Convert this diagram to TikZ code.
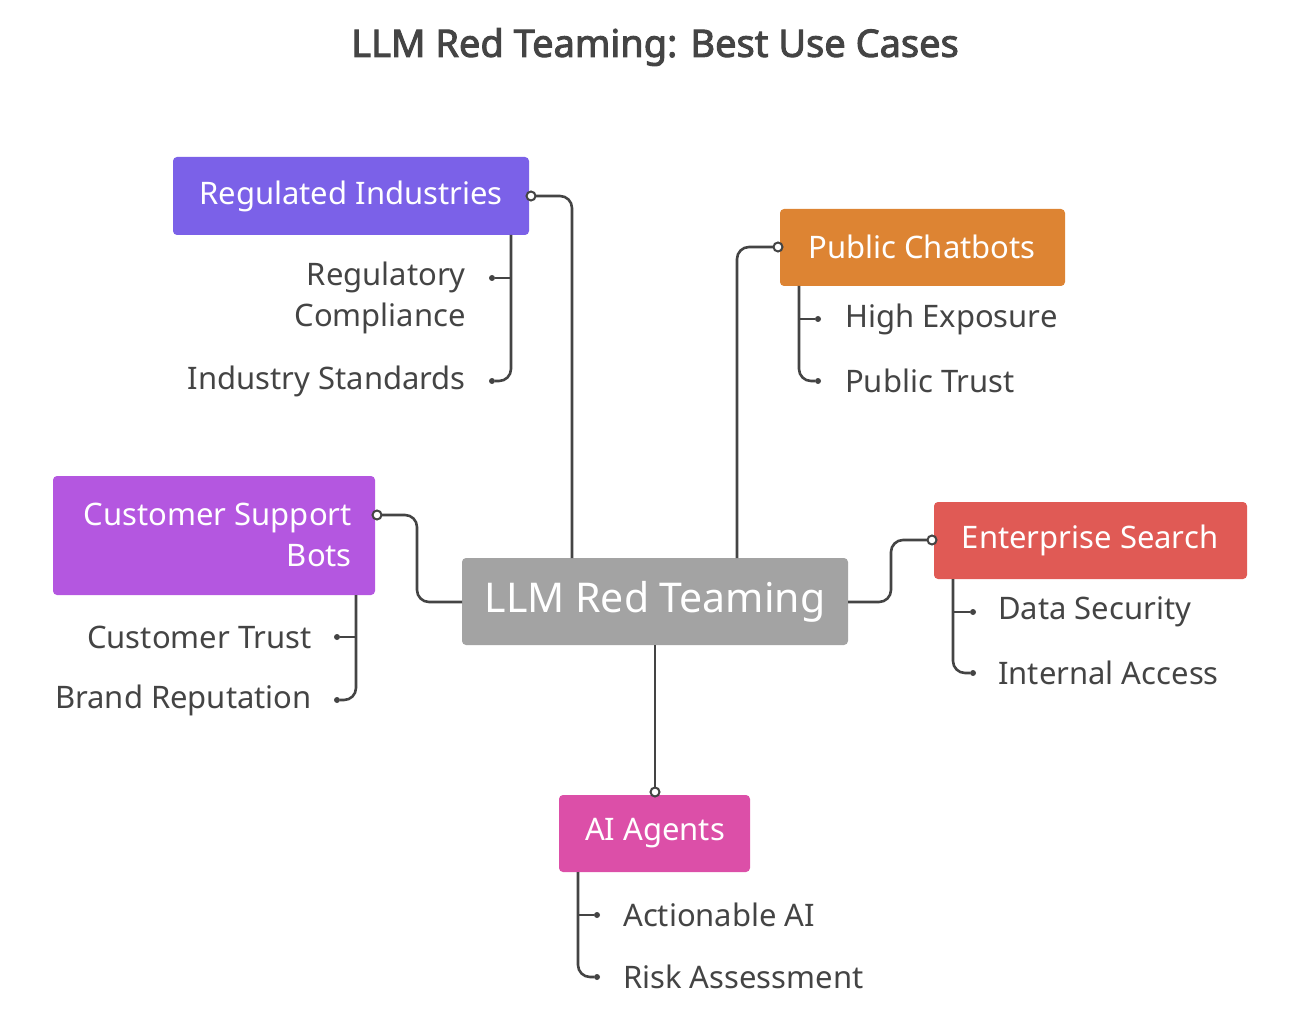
\documentclass[tikz,border=0pt]{standalone}
\usepackage{fontspec}
\setmainfont{Noto Sans}[AutoFakeBold=2.5]
\begin{document}
\definecolor{ink}{HTML}{444444}
\definecolor{cReg}{HTML}{7B61E8}
\definecolor{cPub}{HTML}{DD8433}
\definecolor{cCus}{HTML}{B457E0}
\definecolor{cCen}{HTML}{A3A3A3}
\definecolor{cEnt}{HTML}{E05A55}
\definecolor{cAI}{HTML}{DC4FA8}
\begin{tikzpicture}[x=1pt,y=-1pt,
  box/.style={rounded corners=4pt,text=white,font=\fontsize{31}{41}\selectfont,inner sep=0pt},
  item/.style={text=ink,font=\fontsize{31}{41}\selectfont,inner sep=0pt},
  ln/.style={draw=ink,line width=2.6pt,rounded corners=12pt},
  odot/.style={circle,draw=ink,fill=white,line width=2pt,minimum size=9pt,inner sep=0pt},
  sdot/.style={circle,fill=ink,minimum size=6pt,inner sep=0pt}]
\useasboundingbox (0,0) rectangle (1296,1016);
\node[text=ink,font=\bfseries\fontsize{38}{44}\selectfont] (title) at (655,47) {LLM Red Teaming: Best Use Cases};

\fill[cReg,rounded corners=4pt] (173,157) rectangle (529,235);
\node[box] (reg) at (351,196) {Regulated Industries};
\fill[cPub,rounded corners=4pt] (780,209) rectangle (1065,286);
\node[box] (pub) at (922,247) {Public Chatbots};
\fill[cCus,rounded corners=4pt] (53,476) rectangle (375,595);
\node[box,align=right,anchor=east] (cus) at (352,535) {Customer Support\\Bots};
\fill[cCen,rounded corners=4pt] (462,558) rectangle (848,645);
\node[box,font=\fontsize{41}{48}\selectfont] (cen) at (655,602) {LLM Red Teaming};
\fill[cEnt,rounded corners=4pt] (934,502) rectangle (1247,579);
\node[box] (ent) at (1090,540) {Enterprise Search};
\fill[cAI,rounded corners=4pt] (559,795) rectangle (750,872);
\node[box] (ai) at (655,833) {AI Agents};

% main connectors
\coordinate (r0) at (572,558); \coordinate (r1) at (531,196);
\draw[ln] (r0) -- (572,196) -- (r1);
\coordinate (p0) at (737,558); \coordinate (p1) at (778,247);
\draw[ln] (p0) -- (737,247) -- (p1);
\coordinate (c0) at (462,602); \coordinate (c1) at (377,515);
\draw[ln] (c0) -- (417,602) -- (417,515) -- (c1);
\coordinate (e0) at (848,602); \coordinate (e1) at (932,540);
\draw[ln] (e0) -- (891,602) -- (891,540) -- (e1);
\coordinate (a0) at (655,645); \coordinate (a1) at (655,792);
\draw[ln] (a0) -- (a1);
\node[odot] (rd) at (r1) {}; \node[odot] (pd) at (p1) {};
\node[odot] (cd) at (c1) {}; \node[odot] (ed) at (e1) {};
\node[odot] (ad) at (a1) {};

% Regulated items
\node[item,anchor=east,align=right] (r_a) at (466,298) {Regulatory\\Compliance};
\node[item,anchor=east] (r_b) at (466,381) {Industry Standards};
\node[sdot] (rda) at (492,278) {}; \node[sdot] (rdb) at (492,381) {};
\draw[ln] (511,235) -- (511,381) -- (rdb);
\draw[ln,rounded corners=0pt] (511,278) -- (rda);
% Public items
\node[item,anchor=west] (p_a) at (845,319) {High Exposure};
\node[item,anchor=west] (p_b) at (845,381) {Public Trust};
\node[sdot] (pda) at (818,319) {}; \node[sdot] (pdb) at (818,381) {};
\draw[ln] (799,286) -- (799,381) -- (pdb);
\draw[ln,rounded corners=0pt] (799,319) -- (pda);
% Customer items
\node[item,anchor=east] (c_a) at (312,637) {Customer Trust};
\node[item,anchor=east] (c_b) at (312,700) {Brand Reputation};
\node[sdot] (cda) at (337,637) {}; \node[sdot] (cdb) at (337,700) {};
\draw[ln] (356,595) -- (356,700) -- (cdb);
\draw[ln,rounded corners=0pt] (356,637) -- (cda);
% Enterprise items
\node[item,anchor=west] (e_a) at (998,612) {Data Security};
\node[item,anchor=west] (e_b) at (998,673) {Internal Access};
\node[sdot] (eda) at (973,612) {}; \node[sdot] (edb) at (973,673) {};
\draw[ln] (953,579) -- (953,673) -- (edb);
\draw[ln,rounded corners=0pt] (953,612) -- (eda);
% AI items
\node[item,anchor=west] (a_a) at (623,915) {Actionable AI};
\node[item,anchor=west] (a_b) at (623,977) {Risk Assessment};
\node[sdot] (ada) at (597,915) {}; \node[sdot] (adb) at (597,977) {};
\draw[ln] (578,872) -- (578,977) -- (adb);
\draw[ln,rounded corners=0pt] (578,915) -- (ada);
\end{tikzpicture}
\end{document}
